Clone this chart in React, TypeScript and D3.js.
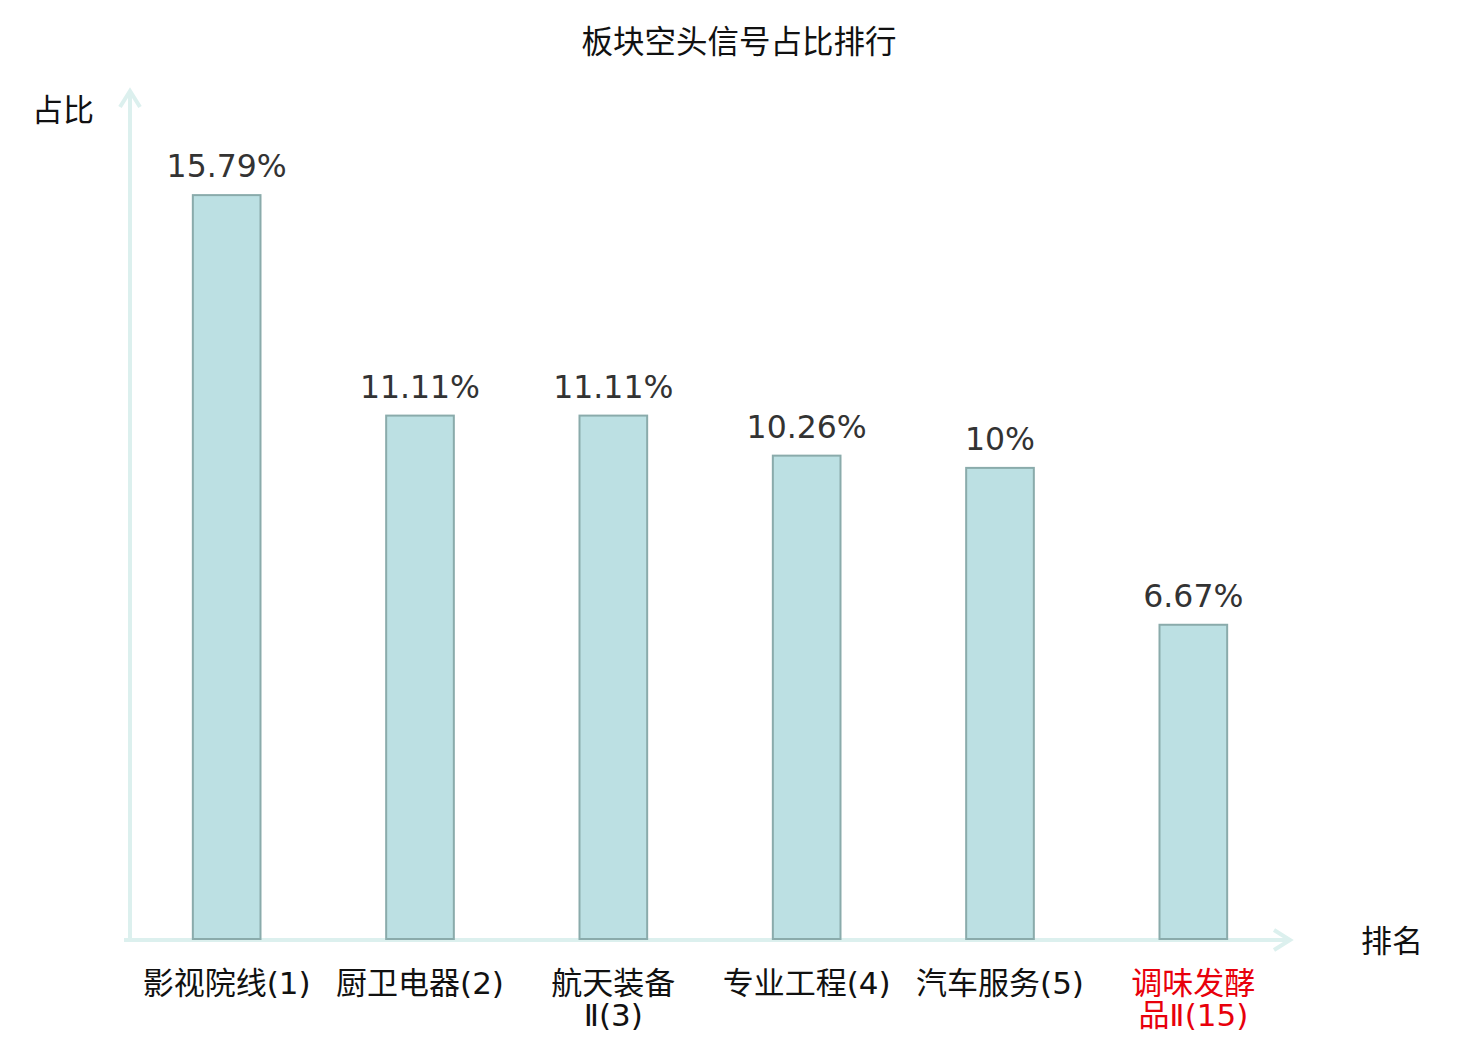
import { useEffect, useRef } from "react";
import * as d3 from "d3";

const names = ["影视院线", "厨卫电器", "航天装备Ⅱ", "专业工程", "汽车服务", "调味发酵品Ⅱ"];
const ranks = [1, 2, 3, 4, 5, 15];
const values = [15.79, 11.11, 11.11, 10.26, 10, 6.67];
const valueLabels = ["15.79%", "11.11%", "11.11%", "10.26%", "10%", "6.67%"];
const highlighted = ["调味发酵品Ⅱ"];

const mixed = "'DejaVu Sans', 'Noto Sans CJK SC', sans-serif";

export default function App() {
  const svgRef = useRef<SVGSVGElement | null>(null);

  useEffect(() => {
    if (!svgRef.current) return;
    const svg = d3.select(svgRef.current);
    svg.selectAll("*").remove();

    const w = 1480;
    const h = 1040;
    const margin = { top: 91, right: 190, bottom: 101, left: 130 };
    const innerW = w - margin.left - margin.right;
    const innerH = h - margin.top - margin.bottom;

    const x = d3.scaleBand<string>().domain(names).range([0, innerW]).paddingInner(0).paddingOuter(0);
    const y = d3.scaleLinear().domain([0, 18]).range([innerH, 0]);
    const barW = x.bandwidth() * 0.35;

    const g = svg.append("g").attr("transform", `translate(${margin.left},${margin.top})`);

    // title
    svg
      .append("text")
      .attr("x", w / 2 - 1)
      .attr("y", 53)
      .attr("text-anchor", "middle")
      .style("font-family", mixed)
      .style("font-size", "31.5px")
      .attr("fill", "#111")
      .text("板块空头信号占比排行");

    // axes
    const axisColor = "#dcf0ee";
    g.append("line")
      .attr("x1", -6)
      .attr("x2", innerW)
      .attr("y1", innerH + 1)
      .attr("y2", innerH + 1)
      .attr("stroke", axisColor)
      .attr("stroke-width", 4);
    g.append("path")
      .attr("d", `M${innerW - 16},${innerH - 9} L${innerW},${innerH + 1} L${innerW - 16},${innerH + 11}`)
      .attr("fill", "none")
      .attr("stroke", axisColor)
      .attr("stroke-width", 4);
    g.append("line")
      .attr("x1", 0)
      .attr("x2", 0)
      .attr("y1", innerH + 1)
      .attr("y2", 0)
      .attr("stroke", axisColor)
      .attr("stroke-width", 4);
    g.append("path")
      .attr("d", `M-10,16 L0,0 L10,16`)
      .attr("fill", "none")
      .attr("stroke", axisColor)
      .attr("stroke-width", 4);

    // axis names
    svg
      .append("text")
      .attr("x", 63)
      .attr("y", 121)
      .attr("text-anchor", "middle")
      .style("font-family", mixed)
      .style("font-size", "31px")
      .attr("fill", "#111")
      .text("占比");
    svg
      .append("text")
      .attr("x", 1392)
      .attr("y", 952)
      .attr("text-anchor", "middle")
      .style("font-family", mixed)
      .style("font-size", "31px")
      .attr("fill", "#111")
      .text("排名");

    // bars
    g.selectAll("rect.bar")
      .data(values)
      .join("rect")
      .attr("class", "bar")
      .attr("x", (_, i) => x(names[i])! + (x.bandwidth() - barW) / 2)
      .attr("y", (d) => y(d))
      .attr("width", barW)
      .attr("height", (d) => innerH - y(d))
      .attr("fill", "#bce0e3")
      .attr("stroke", "#8aabab")
      .attr("stroke-width", 2);

    // value labels
    g.selectAll("text.val")
      .data(values)
      .join("text")
      .attr("class", "val")
      .attr("x", (_, i) => x(names[i])! + x.bandwidth() / 2)
      .attr("y", (d) => y(d) - 18)
      .attr("text-anchor", "middle")
      .style("font-family", "'DejaVu Sans', sans-serif")
      .style("font-size", "31.5px")
      .attr("fill", "#333")
      .text((_, i) => valueLabels[i]);

    // category labels: name broken every 4 chars, rank appended
    names.forEach((n, i) => {
      const cx = x(n)! + x.bandwidth() / 2;
      const chars = Array.from(n);
      const lines: string[] = [];
      for (let k = 0; k < chars.length; k += 4) lines.push(chars.slice(k, k + 4).join(""));
      lines[lines.length - 1] += `(${ranks[i]})`;
      const t = g
        .append("text")
        .attr("x", cx)
        .attr("y", innerH + 55)
        .attr("text-anchor", "middle")
        .style("font-family", mixed)
        .style("font-size", "31px")
        .attr("fill", highlighted.includes(n) ? "#e8000b" : "#111");
      lines.forEach((l, k) => {
        t.append("tspan").attr("x", cx).attr("dy", k === 0 ? 0 : 32).text(l);
      });
    });
  }, []);

  return (
    <div style={{ width: 1480, height: 1040, margin: -8, background: "#fff" }}>
      <svg ref={svgRef} width={1480} height={1040}></svg>
    </div>
  );
}
